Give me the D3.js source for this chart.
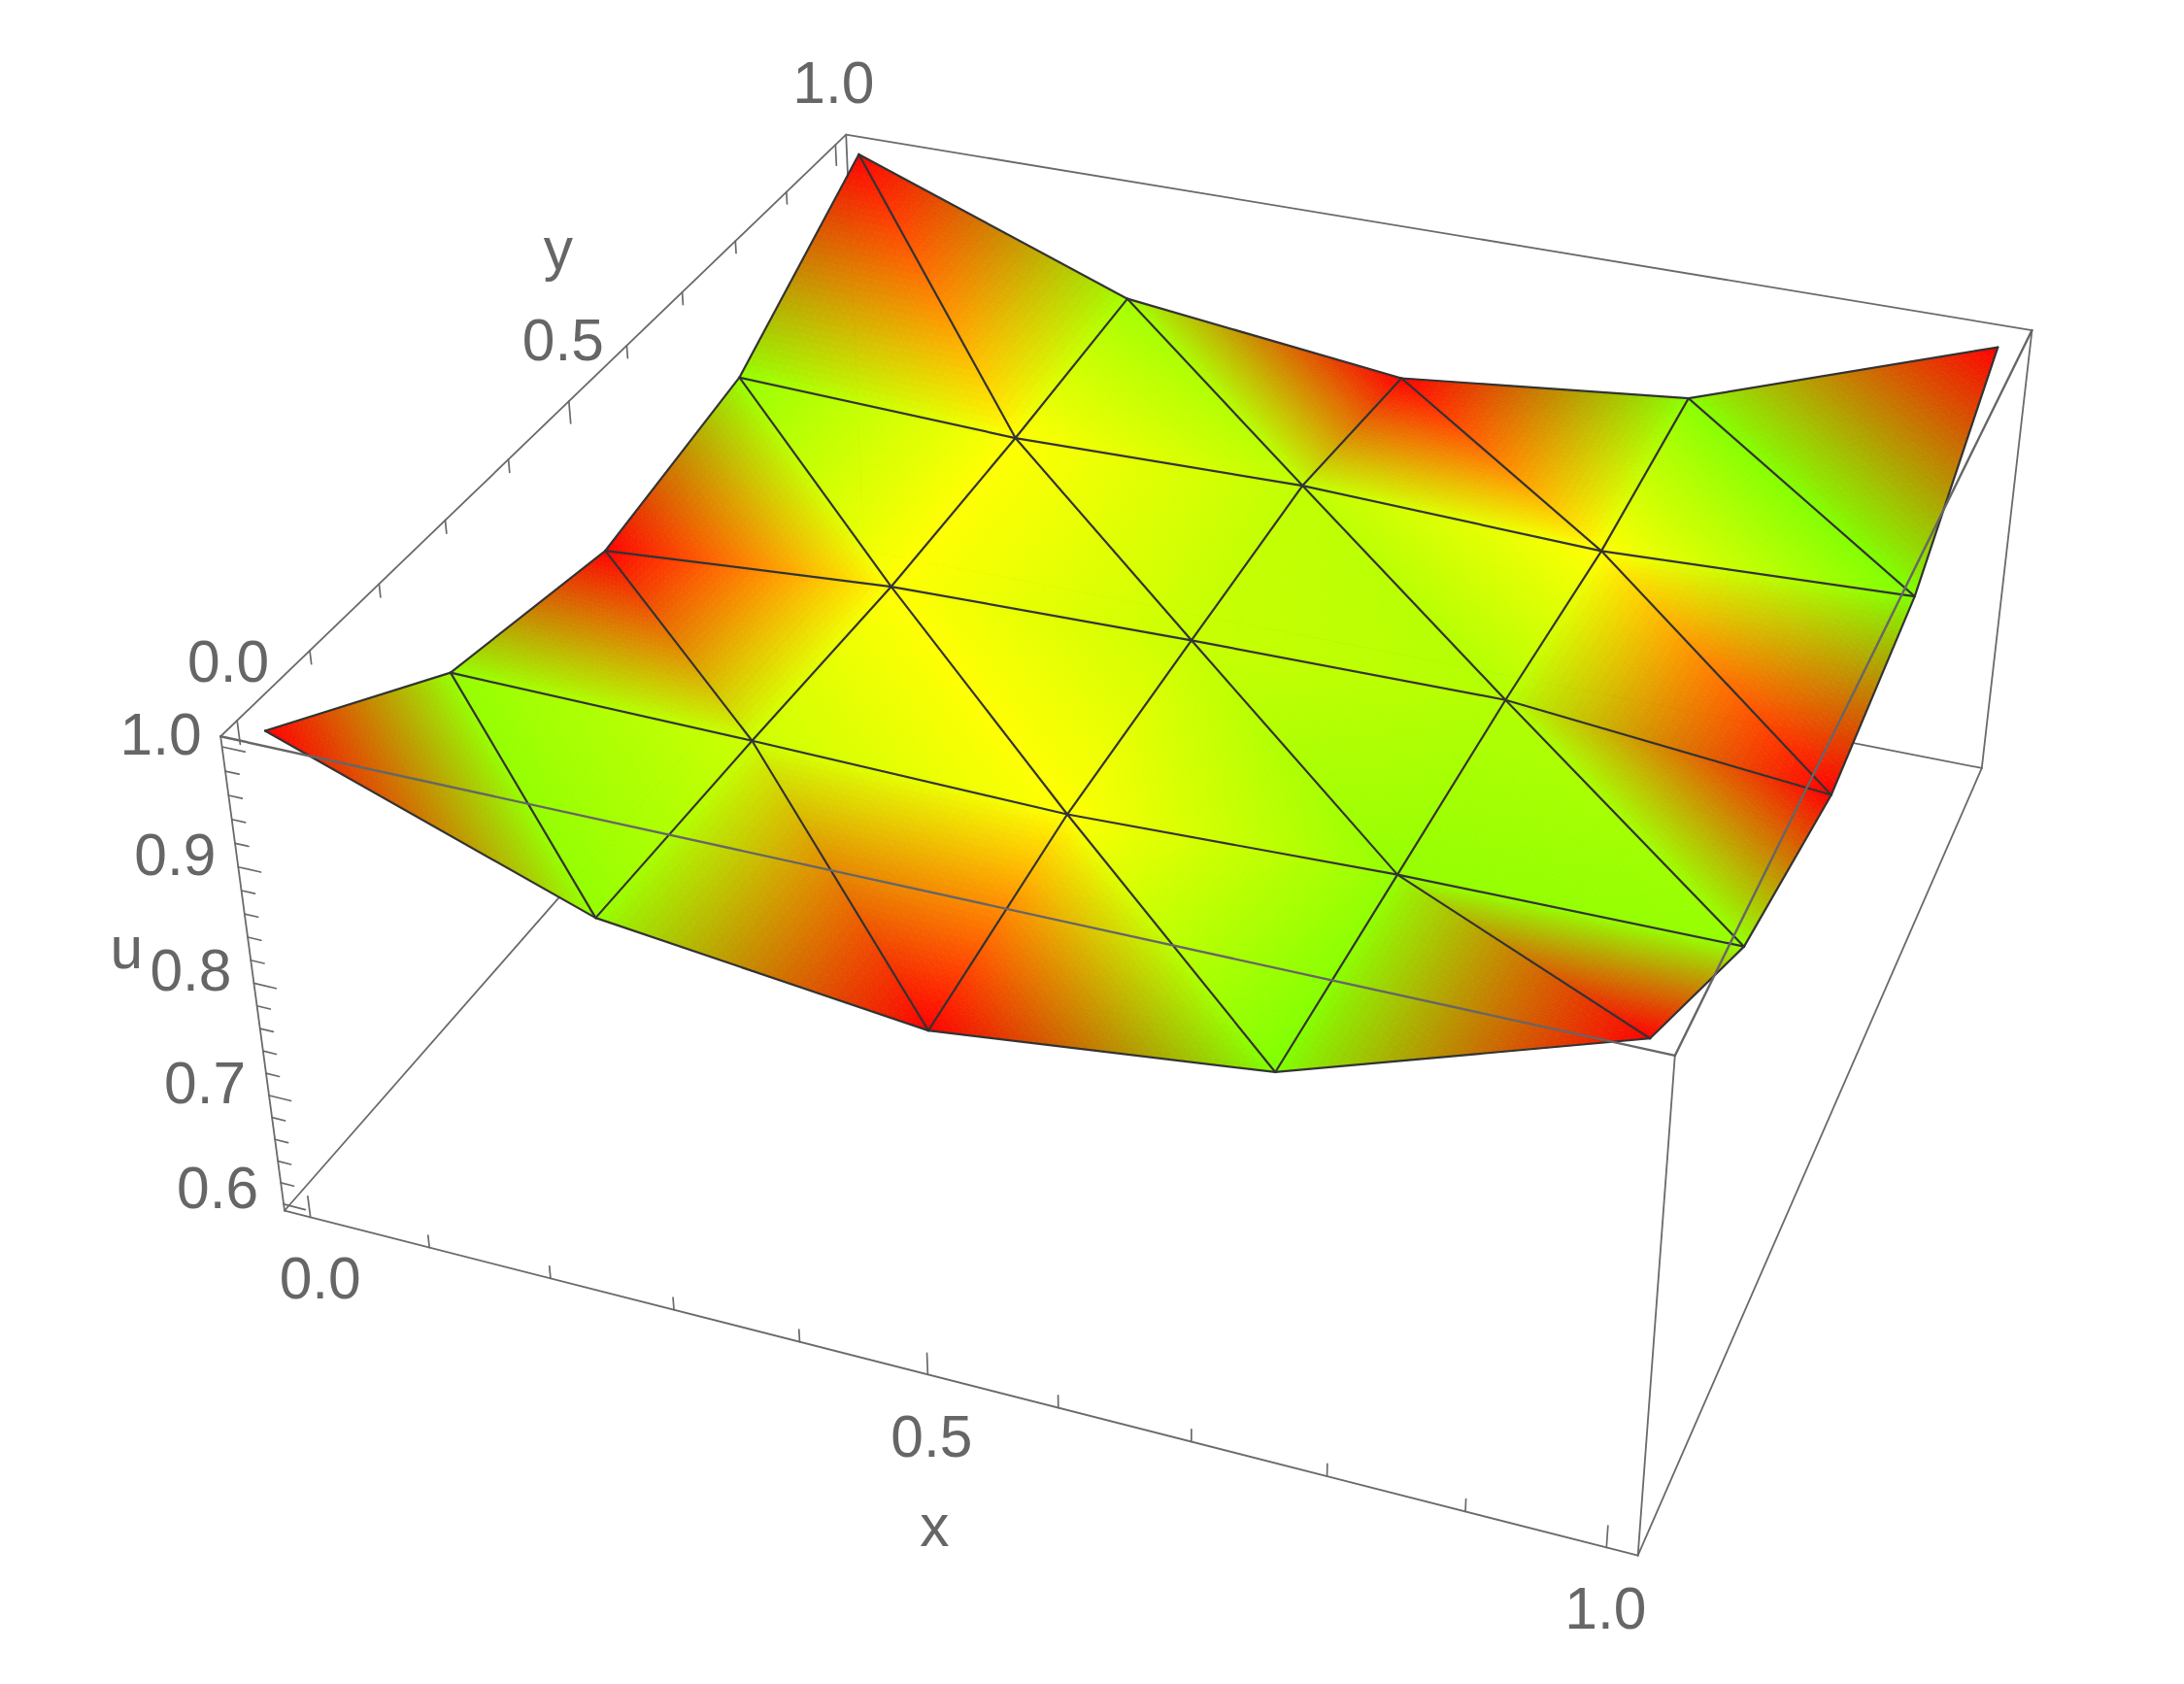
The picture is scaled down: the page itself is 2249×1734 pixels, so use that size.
<!DOCTYPE html>
<html><head><meta charset="utf-8">
<style>html,body{margin:0;background:#fff}svg{display:block}text{font-family:"Liberation Sans",Arial,sans-serif;font-size:60.5px;fill:#666;text-anchor:middle}</style>
<script src="https://cdn.jsdelivr.net/npm/d3@7"></script></head><body>
<svg id="chart" width="2249" height="1734"></svg>
<script>
// ---- data ----
const gridX = [0, 0.25, 0.5, 0.75, 1];
const gridY = [0, 0.25, 0.5, 0.75, 1];
// u(x, y): one row per y value, bottom row first
const uRow0 = [1.005, 0.909, 0.878, 0.909, 1.001];
const uRow1 = [0.909, 0.905, 0.899, 0.907, 0.908];
const uRow2 = [0.879, 0.898, 0.903, 0.905, 0.879];
const uRow3 = [0.910, 0.901, 0.906, 0.897, 0.908];
const uRow4 = [1.003, 0.909, 0.879, 0.907, 1.000];
// vertex hue in degrees (red 0, yellow 60, lime 90)
const hueRow0 = [0, 85, 0, 90, 0];
const hueRow1 = [85, 72, 60, 85, 85];
const hueRow2 = [0, 60, 73, 78, 0];
const hueRow3 = [85, 60, 75, 60, 90];
const hueRow4 = [0, 82, 0, 88, 0];
const uRows = [uRow0, uRow1, uRow2, uRow3, uRow4];
const hueRows = [hueRow0, hueRow1, hueRow2, hueRow3, hueRow4];

const xTickValues = d3.range(0, 11).map(d => d / 10);
const yTickValues = d3.range(0, 11).map(d => d / 10);
const uTickValues = d3.range(0, 21).map(d => 0.6 + d * 0.02);
const xLabels = ["0.0", "0.5", "1.0"];
const yLabels = ["0.0", "0.5", "1.0"];
const uLabels = ["1.0", "0.9", "0.8", "0.7", "0.6"];

// ---- scales onto the unit plot box, and the camera ----
const sx = d3.scaleLinear().domain([-0.022, 1.022]).range([0, 1]);
const sy = d3.scaleLinear().domain([-0.022, 1.022]).range([0, 1]);
const su = d3.scaleLinear().domain([0.594, 1.0085]).range([0, 1]);
const camA = [1234.61, 809.52, -81.11, 293.05];
const camB = [204.18, -544.94, -539.11, 1246.53];
const camW = [-0.09426, 0.23950, -0.06705, 1];
function cam(X, Y, Z) {
  const w = camW[0]*X + camW[1]*Y + camW[2]*Z + camW[3];
  return [(camA[0]*X + camA[1]*Y + camA[2]*Z + camA[3]) / w,
          (camB[0]*X + camB[1]*Y + camB[2]*Z + camB[3]) / w];
}
const svg = d3.select("#chart");
const line = d3.line();
const segs = (g, data, color, width) => g.selectAll(null).data(data).join("path")
  .attr("d", d => line(d)).attr("fill", "none").attr("stroke", color)
  .attr("stroke-width", width).attr("stroke-linecap", "round");
const boxEdge = (a, b) => [cam(...a), cam(...b)];

// ---- box edges behind the surface ----
segs(svg.append("g"), [
  boxEdge([0,0,0],[0,1,0]), boxEdge([0,1,0],[1,1,0]), boxEdge([0,1,0],[0,1,1]),
  boxEdge([0,0,1],[0,1,1]), boxEdge([0,1,1],[1,1,1]),
  boxEdge([0,0,0],[0,0,1]), boxEdge([1,1,0],[1,1,1]), boxEdge([1,0,0],[1,0,1]),
  boxEdge([0,0,0],[1,0,0]), boxEdge([1,0,0],[1,1,0])
], "#6a6a6a", 1.8);

// ---- ticks ----
const isMajorGrid = t => Math.abs(t * 2 - Math.round(t * 2)) < 1e-6;
const isMajorU = t => Math.abs(t * 10 - Math.round(t * 10)) < 1e-6;
const tickG = svg.append("g");
segs(tickG, xTickValues.map(t => { const L = isMajorGrid(t) ? 0.047 : 0.027;
  return [cam(sx(t), 0, 0), cam(sx(t), 0, L)]; }), "#6a6a6a", 1.7);
segs(tickG, yTickValues.map(t => { const L = isMajorGrid(t) ? 0.047 : 0.027;
  return [cam(0, sy(t), 1), cam(0, sy(t), 1 - L)]; }), "#6a6a6a", 1.7);
segs(tickG, uTickValues.map(t => { const L = isMajorU(t) ? 0.0175 : 0.0105;
  return [cam(0, 0, su(t)), cam(L, 0, su(t))]; }), "#6a6a6a", 1.7);

// ---- surface: Gouraud triangles built from the vertex values ----
const vtx = (i, j) => {
  const c = d3.rgb(d3.hsl(hueRows[j][i], 1, 0.5));
  return { p: [sx(gridX[i]), sy(gridY[j]), su(uRows[j][i])], c: [c.r, c.g, c.b] };
};
const triangles = [];
d3.range(4).forEach(j => d3.range(4).forEach(i => {
  triangles.push([vtx(i, j), vtx(i + 1, j), vtx(i, j + 1)]);
  triangles.push([vtx(i + 1, j), vtx(i + 1, j + 1), vtx(i, j + 1)]);
}));
const N = 36;
const facets = [];
function blend(T, a, b) { // a, b: barycentric weights of T[0], T[1]
  const c = 1 - a - b;
  const q = k => T[0].p[k]*a + T[1].p[k]*b + T[2].p[k]*c;
  return cam(q(0), q(1), q(2));
}
function shade(T, a, b) {
  const c = 1 - a - b;
  const m = k => Math.round(T[0].c[k]*a + T[1].c[k]*b + T[2].c[k]*c);
  return `rgb(${m(0)},${m(1)},${m(2)})`;
}
triangles.forEach(T => {
  for (let r = 0; r < N; r++) for (let s = 0; s < N - r; s++) {
    const a0 = r / N, b0 = s / N, d = 1 / N;
    facets.push({ pts: [blend(T,a0,b0), blend(T,a0+d,b0), blend(T,a0,b0+d)], col: shade(T,a0+d/3,b0+d/3) });
    if (s < N - r - 1) facets.push({ pts: [blend(T,a0+d,b0), blend(T,a0+d,b0+d), blend(T,a0,b0+d)], col: shade(T,a0+2*d/3,b0+2*d/3) });
  }
});
svg.append("g").selectAll("polygon").data(facets).join("polygon")
  .attr("points", d => d.pts.map(p => p.map(v => v.toFixed(2)).join(",")).join(" "))
  .attr("fill", d => d.col).attr("stroke", d => d.col).attr("stroke-width", 0.7);

// ---- mesh lines ----
const meshEdges = [];
const P = (i, j) => { const v = vtx(i, j).p; return cam(v[0], v[1], v[2]); };
d3.range(5).forEach(a => d3.range(4).forEach(b => {
  meshEdges.push([P(b, a), P(b + 1, a)]);
  meshEdges.push([P(a, b), P(a, b + 1)]);
}));
d3.range(4).forEach(j => d3.range(4).forEach(i => meshEdges.push([P(i + 1, j), P(i, j + 1)])));
segs(svg.append("g"), meshEdges, "#333", 2.2);

// ---- box edges in front of the surface ----
segs(svg.append("g"), [boxEdge([0,0,1],[1,0,1]), boxEdge([1,0,1],[1,1,1])], "#666", 2.4);

// ---- labels: anchored on the tick they belong to ----
const xLabelOffsets = [[10, 63], [4, 64], [-1, 63]];
const yLabelOffsets = [[-9, -61], [-6, -63], [-2, -64]];
const uLabelOffsets = [[-63, -13], [-65, -13], [-65, -13], [-66, -13], [-68, -17]];
const digitDrop = 21;
const labelG = svg.append("g");
const put = (pos, off, str, drop) => labelG.append("text")
  .attr("x", pos[0] + off[0]).attr("y", pos[1] + off[1] + drop).text(str);
xLabels.forEach((s, k) => put(cam(sx(+s), 0, 0), xLabelOffsets[k], s, digitDrop));
yLabels.forEach((s, k) => put(cam(0, sy(+s), 1), yLabelOffsets[k], s, digitDrop));
uLabels.forEach((s, k) => put(cam(0, 0, su(+s)), uLabelOffsets[k], s, digitDrop));
put(cam(sx(0.5), 0, 0), [7, 162], "x", 15);
put(cam(0, sy(0.5), 1), [-11, -145], "y", 9);
put(cam(0, 0, su(0.8)), [-131, -30], "u", 15);
</script></body></html>
